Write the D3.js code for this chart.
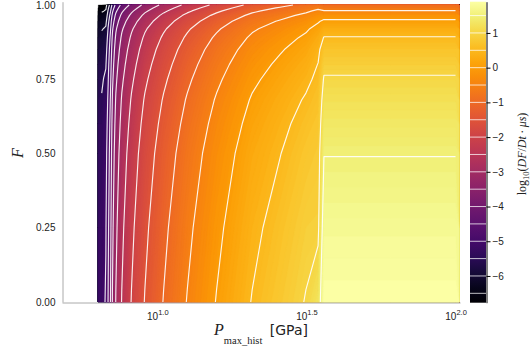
<!DOCTYPE html>
<html>
<head>
<meta charset="utf-8">
<script src="https://cdn.jsdelivr.net/npm/d3@7"></script>
<style>
  body { margin: 0; background: #fff; }
  svg { display: block; font-family: "DejaVu Sans", sans-serif; }
</style>
</head>
<body>
<div id="chart"></div>
<script>
// grid columns: P_max_hist [GPa]
const pressures = [6.51, 6.61, 6.72, 6.84, 6.97, 7.07, 7.26, 7.60, 8.19, 9.08, 10.5, 12.6, 15.8, 20.8, 25.8, 31.5, 34.6, 36.2, 60.3, 100];
// grid rows: F
const fractions = [0, 0.25, 0.5, 0.6, 0.68, 0.75, 0.8, 0.85, 0.89, 0.92, 0.945, 0.965, 0.98, 0.99, 1.0];

// log10(DF/Dt · μs), one row per F value, one entry per pressure column
const rateF000 = [-5.20, -5.08, -4.95, -4.48, -3.98, -3.48, -2.98, -2.48, -1.98, -1.48, -0.98, -0.48, 0.02, 0.52, 0.78, 1.02, 1.25, 1.90, 1.90, 1.90];
const rateF025 = [-5.25, -5.14, -5.03, -4.59, -4.10, -3.60, -3.10, -2.60, -2.10, -1.60, -1.10, -0.60, -0.10, 0.40, 0.66, 0.90, 0.92, 1.73, 1.73, 1.73];
const rateF050 = [-5.33, -5.23, -5.14, -4.74, -4.25, -3.76, -3.26, -2.76, -2.26, -1.76, -1.26, -0.76, -0.26, 0.24, 0.49, 0.74, 0.82, 1.49, 1.49, 1.49];
const rateF060 = [-5.40, -5.31, -5.23, -4.83, -4.35, -3.86, -3.36, -2.86, -2.36, -1.86, -1.36, -0.86, -0.36, 0.14, 0.40, 0.64, 0.74, 1.33, 1.33, 1.33];
const rateF068 = [-5.47, -5.39, -5.32, -4.92, -4.44, -3.96, -3.46, -2.96, -2.46, -1.96, -1.46, -0.96, -0.46, 0.04, 0.30, 0.54, 0.66, 1.19, 1.19, 1.19];
const rateF075 = [-5.56, -5.49, -5.43, -5.03, -4.56, -4.08, -3.58, -3.08, -2.58, -2.08, -1.58, -1.08, -0.58, -0.08, 0.18, 0.42, 0.58, 1.04, 1.04, 1.04];
const rateF080 = [-5.65, -5.59, -5.53, -5.12, -4.65, -4.18, -3.68, -3.18, -2.68, -2.18, -1.68, -1.18, -0.68, -0.18, 0.08, 0.32, 0.51, 0.89, 0.89, 0.89];
const rateF085 = [-5.77, -5.71, -5.66, -5.23, -4.77, -4.30, -3.80, -3.30, -2.80, -2.30, -1.80, -1.30, -0.80, -0.30, -0.04, 0.20, 0.41, 0.71, 0.71, 0.71];
const rateF089 = [-5.90, -5.85, -5.80, -5.35, -4.89, -4.43, -3.93, -3.43, -2.93, -2.43, -1.93, -1.43, -0.93, -0.43, -0.17, 0.07, 0.28, 0.52, 0.52, 0.52];
const rateF092 = [-6.03, -5.99, -5.94, -5.47, -5.02, -4.56, -4.06, -3.56, -3.06, -2.56, -2.06, -1.56, -1.06, -0.56, -0.30, -0.06, 0.13, 0.31, 0.31, 0.31];
const rateF0945 = [-6.20, -6.16, -6.11, -5.62, -5.17, -4.72, -4.22, -3.72, -3.22, -2.72, -2.22, -1.72, -1.22, -0.72, -0.46, -0.22, -0.04, 0.07, 0.07, 0.07];
const rateF0965 = [-6.38, -6.34, -6.29, -5.79, -5.34, -4.90, -4.40, -3.90, -3.40, -2.90, -2.40, -1.90, -1.40, -0.90, -0.64, -0.40, -0.22, -0.17, -0.17, -0.17];
const rateF098 = [-6.55, -6.51, -6.45, -5.95, -5.52, -5.08, -4.58, -4.08, -3.58, -3.08, -2.58, -2.08, -1.58, -1.08, -0.82, -0.58, -0.42, -0.48, -0.48, -0.48];
const rateF099 = [-6.66, -6.62, -6.56, -6.08, -5.65, -5.22, -4.72, -4.22, -3.72, -3.22, -2.72, -2.22, -1.72, -1.22, -0.96, -0.72, -0.58, -0.70, -0.70, -0.70];
const rateF100 = [-6.77, -6.74, -6.66, -6.23, -5.80, -5.38, -4.88, -4.38, -3.88, -3.38, -2.88, -2.38, -1.88, -1.38, -1.12, -0.88, -0.78, -0.90, -0.90, -0.90];
const rateRows = [rateF000, rateF025, rateF050, rateF060, rateF068, rateF075, rateF080, rateF085,
  rateF089, rateF092, rateF0945, rateF0965, rateF098, rateF099, rateF100];

// contour levels and tick values
const contourLevels = [-6.5, -6, -5.5, -5, -4.5, -4, -3.5, -3, -2.5, -2, -1.5, -1, -0.5, 0, 0.5, 1, 1.5];
const xTickValues = [10, Math.pow(10, 1.5), 100];
const yTickValues = [0, 0.25, 0.5, 0.75, 1];
const cbarTickValues = [-6, -5, -4, -3, -2, -1, 0, 1];
const xLimits = [4.79, 103.5];
const yLimits = [0, 1.011];

const width = 531, height = 350;
const serif = "'Liberation Serif', 'DejaVu Serif', serif";
const axisGrey = "#aaaaaa";

const svg = d3.select("#chart").append("svg")
  .attr("width", width)
  .attr("height", height);

// scales
const x = d3.scaleLog().domain(xLimits).range([62, 460]);
const y = d3.scaleLinear().domain(yLimits).range([302, 1.7]);
const extent = d3.extent(rateRows.flat());
const color = d3.scaleSequential(d3.interpolateInferno).domain(extent);

// grid -> pixel mapping for contour coordinates
const nx = pressures.length, ny = fractions.length;
const colX = pressures.map(p => x(p));
const rowY = fractions.map(f => y(f));
const halfCell = 3.5;

function mapX(c, fill) {
  if (fill && c <= 0) return colX[0] - halfCell;
  if (fill && c >= nx) return colX[nx - 1] + halfCell;
  const u = Math.max(0, Math.min(nx - 1, c - 0.5));
  const i = Math.min(nx - 2, Math.floor(u));
  return colX[i] + (colX[i + 1] - colX[i]) * (u - i);
}
function mapY(r) {
  const u = Math.max(0, Math.min(ny - 1, r - 0.5));
  const j = Math.min(ny - 2, Math.floor(u));
  return rowY[j] + (rowY[j + 1] - rowY[j]) * (u - j);
}

const values = rateRows.flat();
const contourGen = d3.contours().size([nx, ny]);

// filled heatmap (fine bands)
const step = 0.05;
const bandThresholds = d3.range(Math.floor(extent[0] / step) * step, extent[1], step);
const heat = svg.append("g");
bandThresholds.forEach(t => {
  const mp = contourGen.contour(values, t);
  let d = "";
  mp.coordinates.forEach(poly => poly.forEach(ring => {
    d += "M" + ring.map(p => mapX(p[0], true).toFixed(2) + "," + mapY(p[1]).toFixed(2)).join("L") + "Z";
  }));
  if (d) heat.append("path")
    .attr("d", d)
    .attr("fill", color(t + step / 2))
    .attr("fill-rule", "evenodd")
    .attr("stroke", color(t + step / 2))
    .attr("stroke-width", 0.3);
});

// contour lines (skip the parts that run along the grid border)
function ringLines(ring) {
  const onB = p => p[0] <= 0 || p[0] >= nx || p[1] <= 0 || p[1] >= ny;
  let pts = ring.slice(0, -1);
  const k = pts.findIndex(onB);
  if (k < 0) return [pts.concat([pts[0]])];
  pts = pts.slice(k).concat(pts.slice(0, k)).concat([pts[k]]);
  const out = [];
  let cur = [];
  pts.forEach(p => {
    if (onB(p)) { if (cur.length > 1) out.push(cur); cur = []; }
    else cur.push(p);
  });
  return out;
}

const lineGen = d3.line().x(p => mapX(p[0], false)).y(p => mapY(p[1]));
const lines = svg.append("g")
  .attr("fill", "none")
  .attr("stroke", "white")
  .attr("stroke-opacity", 0.9)
  .attr("stroke-width", 1.15)
  .attr("stroke-linejoin", "round");
contourLevels.forEach(level => {
  const mp = contourGen.contour(values, level);
  mp.coordinates.forEach(poly => poly.forEach(ring => {
    ringLines(ring).forEach(seg => lines.append("path").attr("d", lineGen(seg)));
  }));
});

// x axis
const xAxis = svg.append("g")
  .attr("transform", "translate(0,302.5)")
  .call(d3.axisBottom(x).tickValues(xTickValues).tickSize(0).tickSizeOuter(0));
xAxis.select(".domain").attr("stroke", axisGrey);
xAxis.selectAll(".tick line").remove();
xAxis.selectAll(".tick text")
  .attr("y", 17.5).attr("dy", 0)
  .attr("font-size", 10).attr("fill", "#222")
  .each(function(d) {
    const t = d3.select(this).text("");
    t.append("tspan").text("10");
    t.append("tspan").attr("dy", -5.5).attr("font-size", 7.5).text(d3.format(".1f")(Math.log10(d)));
  });

// y axis
const yAxis = svg.append("g")
  .attr("transform", "translate(62.5,0)")
  .call(d3.axisLeft(y).tickValues(yTickValues).tickFormat(d3.format(".2f")).tickSize(0).tickSizeOuter(0).tickPadding(7));
yAxis.select(".domain").attr("stroke", axisGrey);
yAxis.selectAll(".tick text").attr("font-size", 10).attr("fill", "#222");

// axis labels
const xLabel = svg.append("text")
  .attr("x", 261).attr("y", 335)
  .attr("text-anchor", "middle")
  .attr("fill", "#222");
xLabel.append("tspan").attr("font-family", serif).attr("font-style", "italic").attr("font-size", 16).text("P");
xLabel.append("tspan").attr("font-family", serif).attr("font-size", 10.5).attr("dy", 9).text("max_hist");
xLabel.append("tspan").attr("dy", -9).attr("dx", 3).attr("font-size", 14).text(" [GPa]");

svg.append("text")
  .attr("transform", "translate(23,153) rotate(-90)")
  .attr("text-anchor", "middle")
  .attr("font-family", serif).attr("font-style", "italic").attr("font-size", 16)
  .attr("fill", "#222")
  .text("F");

// colorbar
const cbX = 470, cbW = 16;
const cbY = d3.scaleLinear().domain(extent).range([302.7, 1.7]);
const grad = svg.append("defs").append("linearGradient")
  .attr("id", "cbgrad").attr("x1", 0).attr("x2", 0).attr("y1", 1).attr("y2", 0);
d3.range(0, 1.0001, 0.05).forEach(o => {
  grad.append("stop").attr("offset", o).attr("stop-color", d3.interpolateInferno(o));
});
svg.append("rect")
  .attr("x", cbX).attr("y", cbY(extent[1]))
  .attr("width", cbW).attr("height", cbY(extent[0]) - cbY(extent[1]))
  .attr("fill", "url(#cbgrad)");
svg.append("g")
  .attr("stroke", "white").attr("stroke-opacity", 0.75).attr("stroke-width", 1)
  .selectAll("line").data(contourLevels).enter().append("line")
  .attr("x1", cbX).attr("x2", cbX + cbW)
  .attr("y1", d => cbY(d)).attr("y2", d => cbY(d));

const cAxis = svg.append("g")
  .attr("transform", `translate(${cbX + cbW + 0.5},0)`)
  .call(d3.axisRight(cbY).tickValues(cbarTickValues).tickFormat(d3.format("d")).tickSize(4).tickSizeOuter(0).tickPadding(2));
cAxis.select(".domain").attr("stroke", "black");
cAxis.selectAll(".tick line").attr("stroke", "black");
cAxis.selectAll(".tick text").attr("font-size", 10).attr("fill", "#222");

const cLabel = svg.append("text")
  .attr("transform", "translate(526,154) rotate(-90)")
  .attr("text-anchor", "middle")
  .attr("font-family", serif).attr("font-size", 12)
  .attr("fill", "#222");
cLabel.append("tspan").text("log");
cLabel.append("tspan").attr("font-size", 8.5).attr("dy", 3).text("10");
cLabel.append("tspan").attr("dy", -3).text("(");
cLabel.append("tspan").attr("font-style", "italic").text("DF");
cLabel.append("tspan").text("/");
cLabel.append("tspan").attr("font-style", "italic").text("Dt");
cLabel.append("tspan").text("\u2009·\u2009");
cLabel.append("tspan").attr("font-style", "italic").text("μs");
cLabel.append("tspan").text(")");
</script>
</body>
</html>
